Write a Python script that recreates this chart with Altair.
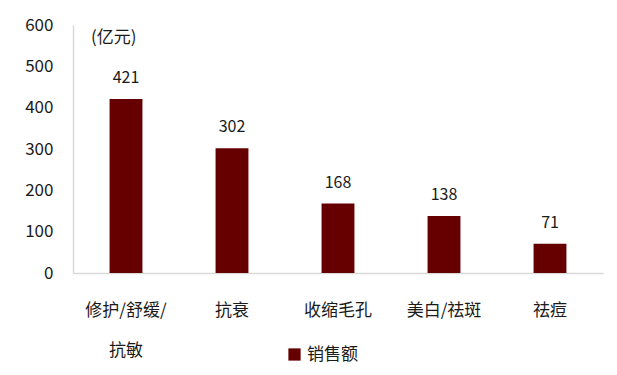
import altair as alt
import pandas as pd

categories = ["修护/舒缓/\n抗敏", "抗衰", "收缩毛孔", "美白/祛斑", "祛痘"]
sales = [421, 302, 168, 138, 71]
series_name = "销售额"
unit_label = "(亿元)"

df = pd.DataFrame({"cat": categories, "value": sales, "series": [series_name] * len(sales)})

FONT = "Noto Sans CJK SC"

x = alt.X("cat:N", sort=categories, title=None,
          scale=alt.Scale(paddingInner=0.69, paddingOuter=0.345),
          axis=alt.Axis(labelAngle=0, labelFontSize=17, labelColor="#1a1a1a",
                        labelPadding=29, ticks=False, domainColor="#d9d9d9",
                        domainWidth=1.5, labelLineHeight=40,
                        labelExpr="split(datum.label, '\\n')", labelFont=FONT))
y = alt.Y("value:Q", title=None,
          scale=alt.Scale(domain=[0, 600], nice=False),
          axis=alt.Axis(values=[0, 100, 200, 300, 400, 500, 600], grid=False, ticks=False,
                        labelFontSize=17, labelColor="#1a1a1a", labelPadding=20,
                        domainColor="#d9d9d9", domainWidth=1.5, labelFont=FONT))

bars = alt.Chart(df).mark_bar(color="#660000").encode(
    x=x, y=y,
    color=alt.Color("series:N", scale=alt.Scale(range=["#660000"]), title=None,
                    legend=alt.Legend(orient="none", legendX=213, legendY=321,
                                      symbolType="square", symbolSize=150,
                                      labelFontSize=17, labelFont=FONT,
                                      labelColor="#1a1a1a")),
)

labels = alt.Chart(df).mark_text(dy=-13, baseline="bottom", fontSize=16, font=FONT,
                                 color="#1a1a1a").encode(
    x=alt.X("cat:N", sort=categories), y="value:Q", text="value:Q")

unit = alt.Chart(pd.DataFrame({"t": [unit_label]})).mark_text(
    fontSize=17, font=FONT, color="#1a1a1a", align="left", baseline="middle").encode(
    x=alt.value(18), y=alt.value(13), text="t:N")

chart = (bars + labels + unit).properties(
    width=530, height=248,
    autosize=alt.AutoSizeParams(type="none"),
    padding={"left": 65, "top": 17, "right": 6, "bottom": 94},
).configure_view(stroke=None)

chart.save("out.html", embed_options={"renderer": "svg", "actions": False})
